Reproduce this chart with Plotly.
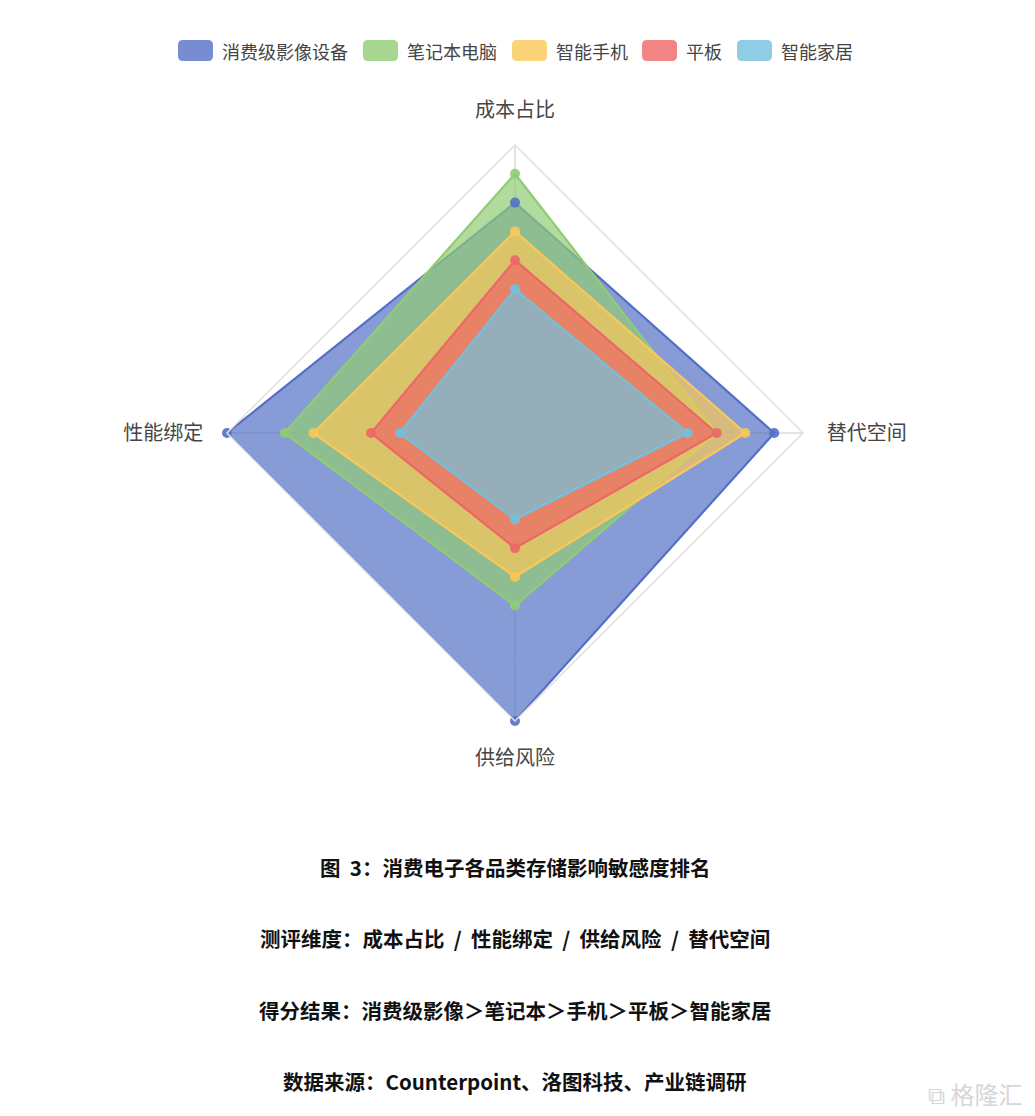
import plotly.graph_objects as go

indicators = ["成本占比", "性能绑定", "供给风险", "替代空间"]
series_names = ["消费级影像设备", "笔记本电脑", "智能手机", "平板", "智能家居"]
v_imaging = [8, 10, 10, 9]
v_laptop = [9, 8, 6, 7]
v_phone = [7, 7, 5, 8]
v_tablet = [6, 5, 4, 7]
v_home = [5, 4, 3, 6]
series_values = [v_imaging, v_laptop, v_phone, v_tablet, v_home]
colors = ["#5470c6", "#91cc75", "#fac858", "#ee6666", "#73c0de"]
max_value = 10

captions = [
    "图  3：消费电子各品类存储影响敏感度排名",
    "测评维度：成本占比  /  性能绑定  /  供给风险  /  替代空间",
    "得分结果：消费级影像＞笔记本＞手机＞平板＞智能家居",
    "数据来源：Counterpoint、洛图科技、产业链调研",
]


def rgba(hex_color, a):
    h = hex_color.lstrip("#")
    r, g, b = int(h[0:2], 16), int(h[2:4], 16), int(h[4:6], 16)
    return f"rgba({r},{g},{b},{a})"


W, H = 1035, 1116
OFF = 8  # default page body margin


def px(x):
    return (x - OFF) / W


def py(y):
    return 1 - (y - OFF) / H


fig = go.Figure()
for name, vals, c in zip(series_names, series_values, colors):
    fig.add_trace(go.Scatterpolar(
        r=vals + vals[:1],
        theta=indicators + indicators[:1],
        name=name,
        mode="lines",
        fill="toself",
        fillcolor=rgba(c, 0.7),
        line=dict(color=c, width=2.2),
        showlegend=False,
        hoverinfo="skip",
    ))
# symbols drawn above all areas
for name, vals, c in zip(series_names, series_values, colors):
    fig.add_trace(go.Scatterpolar(
        r=vals,
        theta=indicators,
        name=name,
        mode="markers",
        marker=dict(color=c, size=10, opacity=0.9),
        showlegend=False,
    ))

cx, cy, R = 515, 433, 288
fig.update_layout(
    width=W, height=H,
    margin=dict(l=0, r=0, t=0, b=0),
    paper_bgcolor="white",
    plot_bgcolor="white",
    font=dict(family="Noto Sans CJK SC, sans-serif", color="#333"),
    showlegend=False,
    polar=dict(
        domain=dict(x=[px(cx - R), px(cx + R)], y=[py(cy + R), py(cy - R)]),
        bgcolor="white",
        gridshape="linear",
        radialaxis=dict(range=[0, max_value], dtick=2, showticklabels=False, ticks="",
                        showline=False, gridcolor="#ececec", gridwidth=1),
        angularaxis=dict(rotation=90, direction="counterclockwise",
                         showline=True, linecolor="#e0e0e0", linewidth=1.5,
                         gridcolor="#c8c8c8", gridwidth=1,
                         ticks="outside", ticklen=19, tickcolor="rgba(0,0,0,0)",
                         tickfont=dict(size=20, color="#464646")),
    ),
)

# custom legend (rounded-rectangle swatches)
legend_icon_x = [178, 363, 512, 642, 737]
icon_w, icon_h, rad = 35, 21, 5
icon_top = 40
shapes = []
for name, c, x0 in zip(series_names, colors, legend_icon_x):
    x1 = x0 + icon_w
    y0 = icon_top
    y1 = icon_top + icon_h
    X0, X1 = px(x0), px(x1)
    Y0, Y1 = py(y0), py(y1)
    rx = rad / W
    ry = rad / H
    path = (f"M {X0+rx},{Y0} L {X1-rx},{Y0} Q {X1},{Y0} {X1},{Y0-ry} "
            f"L {X1},{Y1+ry} Q {X1},{Y1} {X1-rx},{Y1} L {X0+rx},{Y1} "
            f"Q {X0},{Y1} {X0},{Y1+ry} L {X0},{Y0-ry} Q {X0},{Y0} {X0+rx},{Y0} Z")
    shapes.append(dict(type="path", path=path, xref="paper", yref="paper",
                       fillcolor=rgba(c, 0.8), line=dict(width=0)))
    fig.add_annotation(
        text=name, xref="paper", yref="paper", x=px(x1 + 7), y=py(icon_top + icon_h / 2),
        xanchor="left", yanchor="middle", showarrow=False,
        font=dict(size=18, color="#444"),
    )
fig.update_layout(shapes=shapes)

cap_y = [867, 938, 1010, 1081]
for text, yy in zip(captions, cap_y):
    fig.add_annotation(
        text=f"<b>{text}</b>", xref="paper", yref="paper",
        x=px(515), y=py(yy), xanchor="center", yanchor="middle",
        showarrow=False, font=dict(size=20.5, color="#111", family="Noto Sans CJK SC, sans-serif"),
    )

fig.add_annotation(
    text="⧉ 格隆汇", xref="paper", yref="paper", x=px(975), y=py(1093),
    xanchor="center", yanchor="middle", showarrow=False,
    font=dict(size=24, color="#d6d6d6"),
)

fig.write_html("out.html")
